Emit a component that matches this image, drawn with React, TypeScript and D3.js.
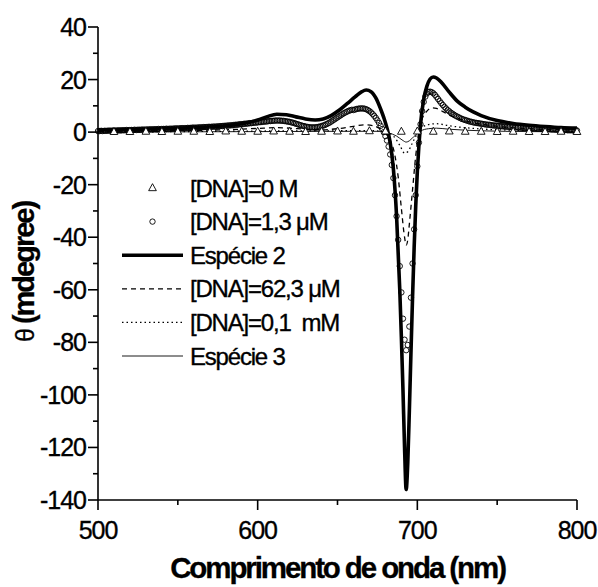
import React from "react";
import * as d3 from "d3";

// Wavelength axis (nm) and CD signal θ (mdegree)

// [DNA]=0 M — open triangles every 10 nm
const triWl: number[] = d3.range(510, 801, 10);
const triVals: number[] = [
  0.1, 0.1, 0.2, 0.1, 0.2, 0.2, 0.1, 0.3, 0.2, 0.2,
  0.3, 0.2, 0.1, 0.2, 0.3, 0.2, 0.4, 0.3, 0.2, 0.3,
  0.2, 0.3, 0.2, 0.2, 0.1, 0.2, 0.1, 0.1, 0.2, 0.1,
];

// [DNA]=1,3 μM — open circles every 1 nm from 500 to 800
const circWl: number[] = d3.range(500, 801, 1);
const circVals: number[] = [
  0.4, 0.4, 0.5, 0.4, 0.5, 0.5, 0.5, 0.6, 0.5, 0.6,
  0.6, 0.6, 0.6, 0.7, 0.6, 0.7, 0.7, 0.7, 0.8, 0.7,
  0.8, 0.8, 0.8, 0.9, 0.8, 0.9, 0.9, 0.9, 1.0, 0.9,
  1.0, 1.0, 1.0, 1.1, 1.0, 1.1, 1.1, 1.1, 1.2, 1.1,
  1.2, 1.2, 1.2, 1.3, 1.2, 1.3, 1.3, 1.3, 1.4, 1.4,
  1.4, 1.4, 1.5, 1.5, 1.5, 1.5, 1.6, 1.6, 1.6, 1.7,
  1.7, 1.7, 1.7, 1.8, 1.8, 1.8, 1.9, 1.9, 1.9, 2.0,
  2.0, 2.0, 2.1, 2.1, 2.1, 2.2, 2.2, 2.3, 2.3, 2.4,
  2.4, 2.5, 2.5, 2.6, 2.6, 2.7, 2.8, 2.8, 2.9, 3.0,
  3.0, 3.1, 3.2, 3.2, 3.3, 3.4, 3.4, 3.5, 3.6, 3.6,
  3.7, 3.8, 3.8, 3.9, 4.0, 4.0, 4.1, 4.2, 4.2, 4.3,
  4.3, 4.4, 4.4, 4.4, 4.4, 4.3, 4.3, 4.2, 4.1, 4.0,
  3.9, 3.7, 3.6, 3.4, 3.2, 3.0, 2.8, 2.6, 2.4, 2.3,
  2.1, 2.0, 1.9, 1.8, 1.8, 1.8, 1.8, 1.9, 2.0, 2.1,
  2.3, 2.5, 2.7, 3.0, 3.3, 3.6, 4.0, 4.4, 4.8, 5.2,
  5.6, 6.0, 6.4, 6.8, 7.2, 7.5, 7.8, 8.1, 8.3, 8.5,
  8.4, 8.6, 8.8, 8.9, 9.0, 9.0, 9.0, 8.9, 8.7, 8.4,
  8.0, 7.5, 6.9, 6.2, 5.4, 4.5, 3.5, 2.4, 1.2, 0.0,
  -1.5, -3.2, -5.5, -8.5, -12.5, -17.5, -24, -32, -41, -51,
  -61, -71, -79, -83, -81, -74, -63, -50, -37, -24,
  -13, -4, 3, 8, 11.5, 13.5, 14.7, 15.3, 15.4, 15.2,
  14.8, 14.2, 13.4, 12.6, 11.8, 11.0, 10.3, 9.6, 9.0, 8.4,
  7.9, 7.4, 7.0, 6.6, 6.2, 5.9, 5.6, 5.3, 5.0, 4.8,
  4.6, 4.4, 4.2, 4.0, 3.9, 3.7, 3.6, 3.5, 3.4, 3.3,
  3.2, 3.1, 3.0, 2.9, 2.8, 2.8, 2.7, 2.6, 2.5, 2.5,
  2.4, 2.4, 2.3, 2.2, 2.2, 2.1, 2.1, 2.0, 2.0, 1.9,
  1.9, 1.8, 1.8, 1.8, 1.7, 1.7, 1.6, 1.6, 1.6, 1.5,
  1.5, 1.5, 1.4, 1.4, 1.4, 1.3, 1.3, 1.3, 1.2, 1.2,
  1.2, 1.1, 1.1, 1.1, 1.0, 1.0, 1.0, 0.9, 0.9, 0.9,
  0.9, 0.8, 0.8, 0.8, 0.7, 0.7, 0.7, 0.7, 0.6, 0.6,
  0.6,
];

// Espécie 2 — thick solid line
const sp2Wl: number[] = [
  500, 520, 540, 560, 578, 590, 600, 606, 612, 618, 624, 630, 636, 641, 646,
  651, 656, 661, 665, 668, 671, 674, 677, 679, 681, 683, 685, 687, 689, 690,
  691, 692, 693, 694, 695, 696, 697, 698, 699, 700, 701, 702, 704, 706, 708,
  710, 712, 715, 720, 725, 730, 735, 740, 750, 760, 770, 780, 790, 800,
];
const sp2Vals: number[] = [
  0.8, 1.0, 1.3, 1.7, 2.3, 3.2, 4.6, 5.9, 6.8, 6.6, 5.8, 5.0, 4.6, 5.0, 6.3,
  8.3, 10.8, 13.4, 15.3, 16.0, 15.4, 13.0, 8.8, 5.5, 1.5, -4, -14, -32, -60, -78,
  -98, -120, -136, -126, -106, -84, -63, -44, -28, -15, -5, 3, 12.5, 17.5, 20.2,
  21.0, 20.6, 19.0, 15.2, 11.8, 9.5, 7.7, 6.3, 4.4, 3.3, 2.6, 2.1, 1.7, 1.5,
];

// [DNA]=62,3 μM — dashed line
const dnaMidWl: number[] = [
  500, 550, 580, 600, 612, 625, 636, 650, 660, 667, 672, 676, 680, 683, 686,
  688, 690, 692, 693, 694, 695, 697, 699, 701, 703, 706, 709, 712, 716, 720,
  730, 740, 750, 770, 800,
];
const dnaMidVals: number[] = [
  0.3, 0.6, 0.9, 1.4, 1.7, 1.3, 0.8, 1.3, 2.2, 2.8, 2.5, 1.5, -0.5, -3, -9,
  -17, -29, -40, -43, -41, -35, -22, -9, 0, 5, 8, 9.2, 9.0, 7.8, 6.5,
  4.3, 3.0, 2.2, 1.3, 0.8,
];

// [DNA]=0,1 mM — dotted line
const dnaHighWl: number[] = [
  500, 550, 600, 650, 670, 680, 685, 689, 692, 694, 697, 700, 703, 708, 712,
  720, 740, 770, 800,
];
const dnaHighVals: number[] = [
  0.0, 0.2, 0.4, 0.5, 0.6, 0.0, -1.5, -5, -8, -7.5, -4, -0.5, 1.8, 3.0, 3.2,
  2.4, 1.2, 0.6, 0.3,
];

// Espécie 3 — thin solid line
const sp3Wl: number[] = [
  500, 550, 600, 650, 675, 682, 687, 691, 693, 695, 698, 702, 707, 712, 720,
  740, 770, 800,
];
const sp3Vals: number[] = [
  0.0, 0.1, 0.2, 0.3, 0.3, -0.3, -1.5, -3.2, -3.8, -3.3, -1.6, 0.4, 1.3, 1.5, 1.1,
  0.5, 0.2, 0.1,
];

const xTicks: number[] = [500, 600, 700, 800];
const xMinor: number[] = [550, 650, 750];
const yTicks: number[] = [40, 20, 0, -20, -40, -60, -80, -100, -120, -140];
const yMinor: number[] = [30, 10, -10, -30, -50, -70, -90, -110, -130];

const legendLabels: string[] = [
  "[DNA]=0 M",
  "[DNA]=1,3 μM",
  "Espécie 2",
  "[DNA]=62,3 μM",
  "[DNA]=0,1  mM",
  "Espécie 3",
];

const W = 598;
const H = 587;
const FONT = "'Liberation Sans', Arial, sans-serif";

export default function App() {
  const x = d3.scaleLinear().domain([500, 800]).range([98, 577]);
  const y = d3.scaleLinear().domain([-140, 40]).range([500, 27]);

  const lineOf = (wl: number[], vals: number[]) =>
    d3
      .line<number>()
      .x((_, i) => x(wl[i]))
      .y((v) => y(v))
      .curve(d3.curveMonotoneX)(vals) || "";

  const triPath = (cx: number, cy: number, s: number) =>
    `M${cx},${cy - s * 0.62}L${cx + s * 0.55},${cy + s * 0.38}L${cx - s * 0.55},${cy + s * 0.38}Z`;

  const x0 = x.range()[0];
  const y0 = y.range()[0];

  const legendX0 = 122;
  const legendX1 = 183;
  const legendTextX = 190;
  const legendY = (i: number) => 188 + i * 33.6;

  return (
    <svg
      width={W}
      height={H}
      viewBox={`0 0 ${W} ${H}`}
      style={{ position: "absolute", left: 0, top: 0, background: "#fff" }}
    >
      <rect x={0} y={0} width={W} height={H} fill="#fff" />

      {/* series lines */}
      <path d={lineOf(sp3Wl, sp3Vals)} fill="none" stroke="#000" strokeWidth={0.9} />
      <path
        d={lineOf(dnaHighWl, dnaHighVals)}
        fill="none"
        stroke="#000"
        strokeWidth={1.3}
        strokeDasharray="1.5,3"
      />
      <path
        d={lineOf(dnaMidWl, dnaMidVals)}
        fill="none"
        stroke="#000"
        strokeWidth={1.3}
        strokeDasharray="5,4"
      />

      {/* circles */}
      <g fill="none" stroke="#000" strokeWidth={0.9}>
        {circVals.map((v, i) => (
          <circle key={i} cx={x(circWl[i])} cy={y(v)} r={2.7} />
        ))}
      </g>

      <path
        d={lineOf(sp2Wl, sp2Vals)}
        fill="none"
        stroke="#000"
        strokeWidth={3.6}
        strokeLinejoin="round"
      />

      {/* triangles */}
      <g fill="#fff" stroke="#000" strokeWidth={0.9}>
        {triVals.map((v, i) => (
          <path key={i} d={triPath(x(triWl[i]), y(v), 7)} />
        ))}
      </g>

      {/* axes */}
      <g stroke="#000" strokeWidth={1.6}>
        <line x1={x0} y1={y(40)} x2={x0} y2={y0} />
        <line x1={x0} y1={y0} x2={x(800)} y2={y0} />
        {yTicks.map((t) => (
          <line key={"yt" + t} x1={x0 - 10} x2={x0} y1={y(t)} y2={y(t)} />
        ))}
        {yMinor.map((t) => (
          <line key={"ym" + t} x1={x0 - 5} x2={x0} y1={y(t)} y2={y(t)} />
        ))}
        {xTicks.map((t) => (
          <line key={"xt" + t} x1={x(t)} x2={x(t)} y1={y0} y2={y0 + 10} />
        ))}
        {xMinor.map((t) => (
          <line key={"xm" + t} x1={x(t)} x2={x(t)} y1={y0} y2={y0 + 5} />
        ))}
      </g>

      <g fontFamily={FONT} fontSize={25} fill="#000" stroke="#000" strokeWidth={0.35} letterSpacing={-1}>
        {yTicks.map((t) => (
          <text key={"yl" + t} x={x0 - 12} y={y(t) + 9} textAnchor="end">
            {t}
          </text>
        ))}
        {xTicks.map((t) => (
          <text key={"xl" + t} x={x(t)} y={539} textAnchor="middle">
            {t}
          </text>
        ))}
      </g>

      {/* axis titles */}
      <text
        x={(x0 + x(800)) / 2}
        y={578}
        textAnchor="middle"
        fontFamily={FONT}
        fontSize={29.5}
        fontWeight="bold"
        letterSpacing={-2.1}
        stroke="#000"
        strokeWidth={0.3}
      >
        Comprimento de onda (nm)
      </text>
      <text
        transform={`translate(34,272) rotate(-90)`}
        textAnchor="middle"
        fontFamily={FONT}
        fontSize={29}
        fontWeight="bold"
        letterSpacing={-2}
        stroke="#000"
        strokeWidth={0.3}
      >
        <tspan fontWeight="normal" fontSize={25}>θ</tspan> (mdegree)
      </text>

      {/* legend */}
      <g>
        <path d={triPath((legendX0 + legendX1) / 2, legendY(0), 7)} fill="#fff" stroke="#000" strokeWidth={0.9} />
        <circle cx={(legendX0 + legendX1) / 2} cy={legendY(1)} r={2.7} fill="none" stroke="#000" strokeWidth={0.9} />
        <line x1={legendX0} x2={legendX1} y1={legendY(2)} y2={legendY(2)} stroke="#000" strokeWidth={3.6} />
        <line x1={legendX0} x2={legendX1} y1={legendY(3)} y2={legendY(3)} stroke="#000" strokeWidth={1.3} strokeDasharray="5,4" />
        <line x1={legendX0} x2={legendX1} y1={legendY(4)} y2={legendY(4)} stroke="#000" strokeWidth={1.3} strokeDasharray="1.5,3" />
        <line x1={legendX0} x2={legendX1} y1={legendY(5)} y2={legendY(5)} stroke="#000" strokeWidth={0.9} />
        <g fontFamily={FONT} fontSize={24} letterSpacing={-1.2} stroke="#000" strokeWidth={0.35}>
          {legendLabels.map((l, i) => (
            <text key={l} x={legendTextX} y={legendY(i) + 8.5} style={{ whiteSpace: "pre" }}>
              {l}
            </text>
          ))}
        </g>
      </g>
    </svg>
  );
}
